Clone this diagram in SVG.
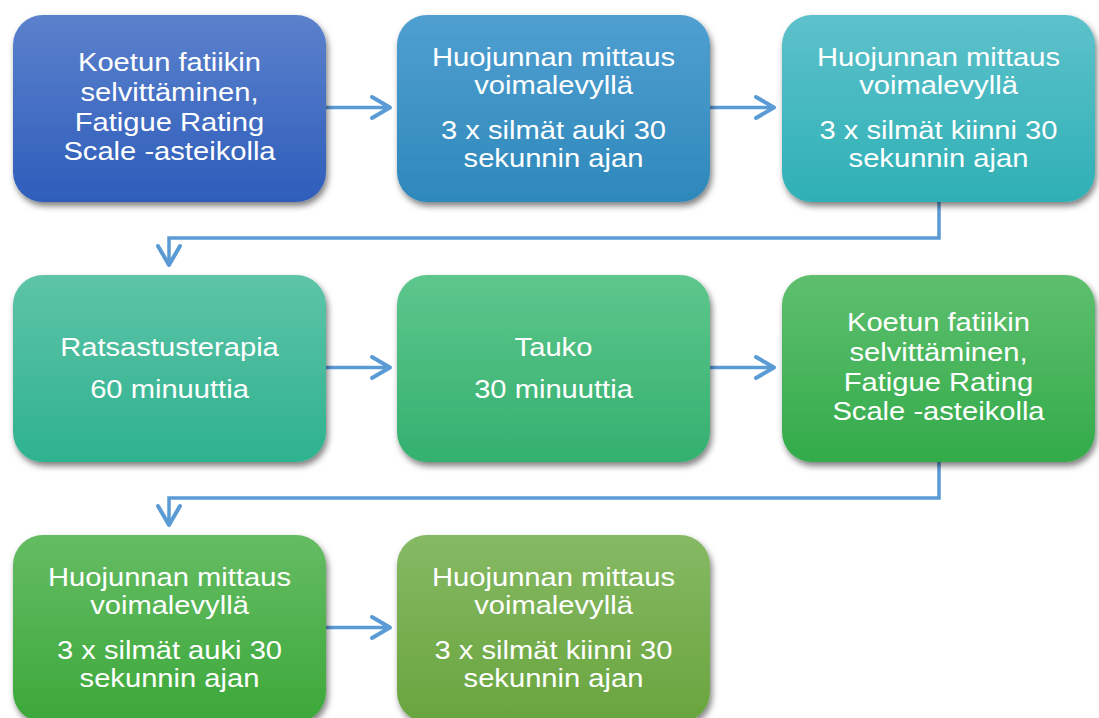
<svg xmlns="http://www.w3.org/2000/svg" width="1099" height="718" viewBox="0 0 1099 718">
<style>
.box{filter:url(#sh)}
.t{font-family:"Liberation Sans",Arial,sans-serif;font-size:26.5px;fill:#fff;text-anchor:middle}
.c{fill:none;stroke:#5B9BD5;stroke-width:3.5;stroke-linejoin:miter}
.h{fill:none;stroke:#5B9BD5;stroke-width:4;stroke-linecap:round;stroke-linejoin:round}
</style>
<defs>
<filter id="sh" x="-10%" y="-10%" width="125%" height="130%">
<feDropShadow dx="2" dy="4" stdDeviation="3" flood-color="#000" flood-opacity="0.5"/>
</filter>
<linearGradient id="g1" x1="0" y1="0" x2="0" y2="1"><stop offset="0" stop-color="#5B81CC"/><stop offset="1" stop-color="#2E5DBA"/></linearGradient>
<linearGradient id="g2" x1="0" y1="0" x2="0" y2="1"><stop offset="0" stop-color="#509FD1"/><stop offset="1" stop-color="#2E88BA"/></linearGradient>
<linearGradient id="g3" x1="0" y1="0" x2="0" y2="1"><stop offset="0" stop-color="#5DC1CB"/><stop offset="1" stop-color="#2EB0B5"/></linearGradient>
<linearGradient id="g4" x1="0" y1="0" x2="0" y2="1"><stop offset="0" stop-color="#5EC4A8"/><stop offset="1" stop-color="#2EB28F"/></linearGradient>
<linearGradient id="g5" x1="0" y1="0" x2="0" y2="1"><stop offset="0" stop-color="#5EC68C"/><stop offset="1" stop-color="#33B06F"/></linearGradient>
<linearGradient id="g6" x1="0" y1="0" x2="0" y2="1"><stop offset="0" stop-color="#5EBF6E"/><stop offset="1" stop-color="#33AB4A"/></linearGradient>
<linearGradient id="g7" x1="0" y1="0" x2="0" y2="1"><stop offset="0" stop-color="#65BC63"/><stop offset="1" stop-color="#3CA83A"/></linearGradient>
<linearGradient id="g8" x1="0" y1="0" x2="0" y2="1"><stop offset="0" stop-color="#86B964"/><stop offset="1" stop-color="#69A53E"/></linearGradient>
</defs>
<rect width="1099" height="718" fill="#fff"/>
<g id="connectors">
<path class="c" d="M326,107.5H389"/><path class="h" d="M372,97L390,107.5L372,118"/>
<path class="c" d="M710,107.5H773"/><path class="h" d="M756,97L774,107.5L756,118"/>
<path class="c" d="M939,200V238H169V264"/><path class="h" d="M158,246L169,265L180,246"/>
<path class="c" d="M326,367.5H389"/><path class="h" d="M372,357L390,367.5L372,378"/>
<path class="c" d="M710,367.5H773"/><path class="h" d="M756,357L774,367.5L756,378"/>
<path class="c" d="M939,460V498H169V524"/><path class="h" d="M158,506L169,525L180,506"/>
<path class="c" d="M326,627.5H389"/><path class="h" d="M372,617L390,627.5L372,638"/>
</g>
<g id="n1"><rect class="box" x="13" y="15" width="313" height="187" rx="30" fill="url(#g1)"/>
<g transform="translate(169.5,0) scale(1.1,1)"><text class="t" x="0" y="71">Koetun fatiikin</text><text class="t" x="0" y="101">selvittäminen,</text><text class="t" x="0" y="131">Fatigue Rating</text><text class="t" x="0" y="160">Scale -asteikolla</text></g></g>
<g id="n2"><rect class="box" x="397" y="15" width="313" height="187" rx="30" fill="url(#g2)"/>
<g transform="translate(553.5,0) scale(1.1,1)"><text class="t" x="0" y="66">Huojunnan mittaus</text><text class="t" x="0" y="94">voimalevyllä</text><text class="t" x="0" y="139">3 x silmät auki 30</text><text class="t" x="0" y="167">sekunnin ajan</text></g></g>
<g id="n3"><rect class="box" x="782" y="15" width="313" height="187" rx="30" fill="url(#g3)"/>
<g transform="translate(938.5,0) scale(1.1,1)"><text class="t" x="0" y="66">Huojunnan mittaus</text><text class="t" x="0" y="94">voimalevyllä</text><text class="t" x="0" y="139">3 x silmät kiinni 30</text><text class="t" x="0" y="167">sekunnin ajan</text></g></g>
<g id="n4"><rect class="box" x="13" y="275" width="313" height="187" rx="30" fill="url(#g4)"/>
<g transform="translate(169.5,0) scale(1.1,1)"><text class="t" x="0" y="356">Ratsastusterapia</text><text class="t" x="0" y="398">60 minuuttia</text></g></g>
<g id="n5"><rect class="box" x="397" y="275" width="313" height="187" rx="30" fill="url(#g5)"/>
<g transform="translate(553.5,0) scale(1.1,1)"><text class="t" x="0" y="356">Tauko</text><text class="t" x="0" y="398">30 minuuttia</text></g></g>
<g id="n6"><rect class="box" x="782" y="275" width="313" height="187" rx="30" fill="url(#g6)"/>
<g transform="translate(938.5,0) scale(1.1,1)"><text class="t" x="0" y="331">Koetun fatiikin</text><text class="t" x="0" y="361">selvittäminen,</text><text class="t" x="0" y="391">Fatigue Rating</text><text class="t" x="0" y="420">Scale -asteikolla</text></g></g>
<g id="n7"><rect class="box" x="13" y="535" width="313" height="187" rx="30" fill="url(#g7)"/>
<g transform="translate(169.5,0) scale(1.1,1)"><text class="t" x="0" y="586">Huojunnan mittaus</text><text class="t" x="0" y="614">voimalevyllä</text><text class="t" x="0" y="659">3 x silmät auki 30</text><text class="t" x="0" y="687">sekunnin ajan</text></g></g>
<g id="n8"><rect class="box" x="397" y="535" width="313" height="187" rx="30" fill="url(#g8)"/>
<g transform="translate(553.5,0) scale(1.1,1)"><text class="t" x="0" y="586">Huojunnan mittaus</text><text class="t" x="0" y="614">voimalevyllä</text><text class="t" x="0" y="659">3 x silmät kiinni 30</text><text class="t" x="0" y="687">sekunnin ajan</text></g></g>
</svg>
